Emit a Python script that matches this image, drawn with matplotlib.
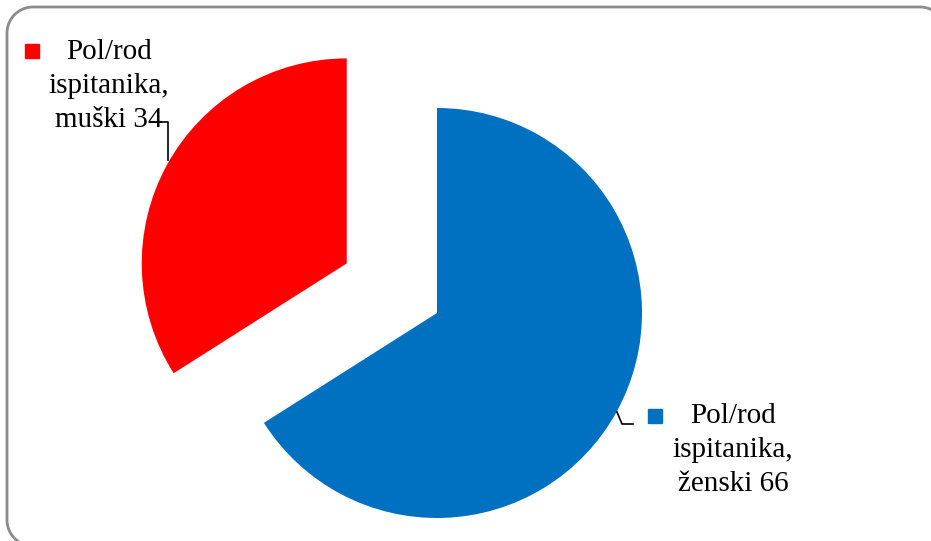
import numpy as np
import matplotlib.pyplot as plt

# data
labels = ["Pol/rod\nispitanika,\nženski 66", "Pol/rod\nispitanika,\nmuški 34"]
values = [66, 34]
colors = ["#0070C0", "#FF0000"]

H = 541
fig = plt.figure(figsize=(9.31, 5.41), dpi=100)
ax = fig.add_axes([0, 0, 1, 1])

# explode is in data units here (pixels)
ax.pie(values, colors=colors, startangle=90, counterclock=False,
       explode=[0, 103], center=(437, H - 313), radius=205,
       wedgeprops=dict(linewidth=0))

ax.set_xlim(0, 931)
ax.set_ylim(0, H)
ax.set_aspect('equal')
ax.axis('off')


def rounded_rect(x0, y0, x1, y1, r, n=20):
    # outline of a rounded rectangle, counter-clockwise from bottom-left
    xs, ys = [], []
    corners = [(x1 - r, y0 + r, -90), (x1 - r, y1 - r, 0),
               (x0 + r, y1 - r, 90), (x0 + r, y0 + r, 180)]
    for cx, cy, a in corners:
        t = np.radians(np.linspace(a, a + 90, n))
        xs.extend(cx + r * np.cos(t))
        ys.extend(cy + r * np.sin(t))
    xs.append(xs[0])
    ys.append(ys[0])
    return xs, ys


# rounded chart border (runs past the right and bottom edges)
bx, by = rounded_rect(7, H - 546, 946, H - 7, 26)
ax.plot(bx, by, color="#8c8c8c", lw=2, clip_on=False, zorder=5)

# data labels
font = dict(family="Liberation Serif", fontsize=21, color="black",
            ha="center", va="center", multialignment="center", linespacing=1.4)
ax.text(109, H - 86, labels[1], **font)
ax.plot([31.5], [H - 51], marker="s", markersize=10.5, color=colors[1], linestyle="none")
ax.text(733, H - 450, labels[0], **font)
ax.plot([654.5], [H - 416], marker="s", markersize=10.5, color=colors[0], linestyle="none")

# leader lines
ax.plot([155, 168, 168], [H - 122, H - 122, H - 160], color="black", lw=1.2)
ax.plot([617, 622, 633], [H - 412, H - 424, H - 424], color="black", lw=1.2)

fig.savefig("out.png", dpi=100)
